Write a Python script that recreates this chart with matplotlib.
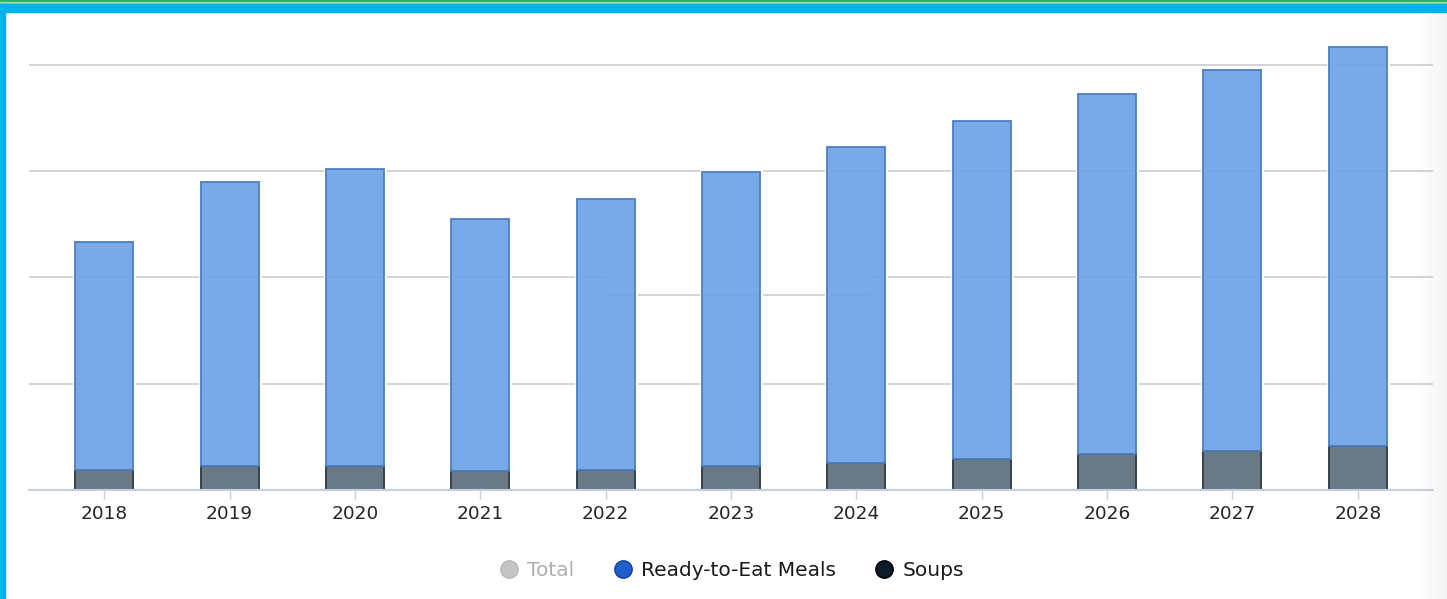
import numpy as np
import matplotlib
matplotlib.use('Agg')
import matplotlib.pyplot as plt
from matplotlib.patches import Rectangle
from matplotlib.lines import Line2D

# data (units: one gridline step = 10)
years = ['2018', '2019', '2020', '2021', '2022', '2023', '2024', '2025', '2026', '2027', '2028']
soups = [1.9, 2.3, 2.3, 1.8, 1.9, 2.3, 2.5, 2.9, 3.4, 3.7, 4.1]
meals = [21.4, 26.7, 27.9, 23.7, 25.5, 27.6, 29.8, 31.8, 33.8, 35.8, 37.6]
grid_levels = [10, 20, 30, 40]
legend_names = ['Total', 'Ready-to-Eat Meals', 'Soups']

W, H = 1447, 599
fig = plt.figure(figsize=(W / 100, H / 100), dpi=100)
fig.patch.set_facecolor('white')

# frame bands like in the screenshot
fig.patches.append(Rectangle((0, 1 - 2 / H), 1, 2 / H, transform=fig.transFigure,
                             color='#1fb35a', zorder=0))
fig.patches.append(Rectangle((0, 1 - 4 / H), 1, 2 / H, transform=fig.transFigure,
                             color='#9fd9a6', zorder=0))
fig.patches.append(Rectangle((0, 1 - 12 / H), 1, 8 / H, transform=fig.transFigure,
                             color='#00b2ec', zorder=0))
fig.patches.append(Rectangle((0, 0), 4.5 / W, 1 - 4 / H, transform=fig.transFigure,
                             color='#00b2ec', zorder=0))

# soft grey fade on the right edge
fade = fig.add_axes([1418 / W, 0, 29 / W, 1 - 12 / H])
grad = np.linspace(1.0, 0.955, 50).reshape(1, -1)
fade.imshow(np.dstack([grad, grad, grad]), aspect='auto', extent=[0, 1, 0, 1])
fade.axis('off')

ax = fig.add_axes([29 / W, 109 / H, (1433 - 29) / W, (490 - 20) / H])
x = np.arange(len(years))
ax.set_xlim(-0.6, len(years) - 0.4)
ax.set_ylim(0, 44.2)

# gridlines (the 20 line is broken/shifted in the screenshot)
for g in grid_levels:
    if g == 20:
        ax.hlines(g, -0.6, 4.0, color='#c8c8c8', lw=1.1, zorder=0)
        ax.hlines(18.3, 4.0, 6.1, color='#c8c8c8', lw=1.1, zorder=0)
        ax.hlines(g, 6.1, len(years) - 0.4, color='#c8c8c8', lw=1.1, zorder=0)
    else:
        ax.axhline(g, color='#c8c8c8', lw=1.1, zorder=0)

bw = 0.463
meals_bottom = np.array(soups)
# white outline first, then the coloured bars
ax.bar(x, soups, bw, color='none', edgecolor='white', lw=3.5, zorder=2)
ax.bar(x, meals, bw, bottom=meals_bottom, color='none', edgecolor='white', lw=3.5, zorder=2)
ax.bar(x, soups, bw, color='#697986', edgecolor='#34414c', lw=1.4, zorder=3)
ax.bar(x, meals, bw, bottom=meals_bottom, color='#6ba0e5', alpha=0.9,
       edgecolor='#4a7cc2', lw=1.4, zorder=3)

for s in ['top', 'right', 'left']:
    ax.spines[s].set_visible(False)
ax.spines['bottom'].set_color('#c5cfe3')
ax.spines['bottom'].set_linewidth(1.5)
ax.spines['bottom'].set_zorder(4)
ax.set_yticks([])
ax.set_xticks(x)
ax.set_xticklabels(years, fontsize=13.3, color='#262626')
ax.tick_params(axis='x', length=6.5, width=1, color='#c5cfe3', pad=4.5)
ax.set_facecolor('none')

handles = [
    Line2D([], [], ls='none', marker='o', ms=12.5, mfc='#c4c4c4', mec='#b8b8b8'),
    Line2D([], [], ls='none', marker='o', ms=12.5, mfc='#1f5fcc', mec='#123f99'),
    Line2D([], [], ls='none', marker='o', ms=12.5, mfc='#0d1a2a', mec='#000000'),
]
leg = fig.legend(handles, legend_names, loc='center', bbox_to_anchor=(731 / W, 1 - 571 / H),
                 ncol=3, frameon=False, fontsize=14.5, handletextpad=0.35,
                 columnspacing=1.85, handlelength=1.1)
for t, c in zip(leg.get_texts(), ['#b0b0b0', '#1a1a1a', '#1a1a1a']):
    t.set_color(c)

fig.savefig('out.png', dpi=100)
